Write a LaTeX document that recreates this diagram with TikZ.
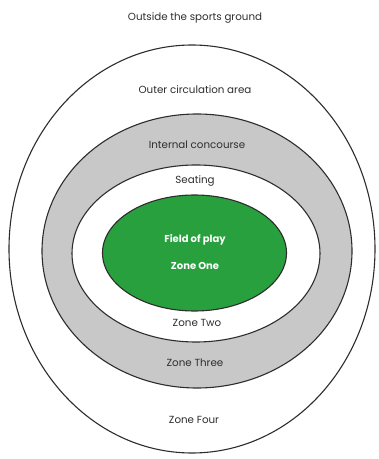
\documentclass[tikz,border=0pt]{standalone}
\usepackage{fontspec}
\setmainfont{Poppins}
\definecolor{fieldgreen}{RGB}{40,160,62}
\definecolor{ringgray}{RGB}{200,200,200}
\definecolor{edge}{RGB}{45,45,45}
\begin{document}
\begin{tikzpicture}[x=1pt,y=1pt,
  ring/.style={draw=edge,line width=1.1pt},
  lbl/.style={font=\fontsize{10.3}{12}\selectfont,text=black!82},
  flbl/.style={font=\bfseries\fontsize{10}{12}\selectfont,text=white}]
\useasboundingbox (0,0) rectangle (379,459);
\fill[white] (0,0) rectangle (379,459);
\draw[ring,fill=white] (192,210) ellipse [x radius=183,y radius=204];
\draw[ring,fill=ringgray] (197,208) ellipse [x radius=155,y radius=137];
\draw[ring,fill=white] (196,205.5) ellipse [x radius=124,y radius=88.5];
\draw[ring,fill=fieldgreen] (194.5,206) ellipse [x radius=92,y radius=58];
\node[lbl] (outside) at (195,441) {Outside the sports ground};
\node[lbl] (outer) at (195,369) {Outer circulation area};
\node[lbl] (concourse) at (197,314) {Internal concourse};
\node[lbl] (seating) at (195,278) {Seating};
\node[flbl] (field) at (195,219) {Field of play};
\node[flbl] (zone1) at (195,193) {Zone One};
\node[lbl] (zone2) at (197,136) {Zone Two};
\node[lbl] (zone3) at (195,96) {Zone Three};
\node[lbl] (zone4) at (194,39) {Zone Four};
\end{tikzpicture}
\end{document}
